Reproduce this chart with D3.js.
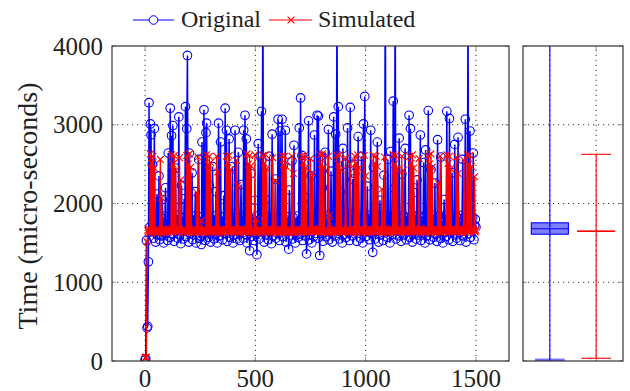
<!DOCTYPE html>
<html>
<head>
<meta charset="utf-8">
<script src="https://cdn.jsdelivr.net/npm/d3@7"></script>
<style>
body { margin: 0; background: #fff; }
text { font-family: "Liberation Serif", "Times New Roman", "DejaVu Serif", serif; fill: #222; }
</style>
</head>
<body>
<svg id="chart" width="630" height="391"></svg>
<script>
// one value every 3 runs
var sampleStep = 3;

var original = [
  20, 25, 1530, 420, 440, 1260, 3280, 1700, 3010, 2870, 1640, 2500, 1790, 1560, 2950, 1720, 1510, 1830, 2120, 1600,
  1750, 2350, 1540, 1690, 1820, 1590, 2050, 1760, 1500, 1680, 1840, 2200, 1620, 1720, 1530, 2640, 1790, 1570, 3210, 1700,
  2860, 1610, 2990, 1810, 1520, 1740, 2450, 1650, 1850, 1560, 1700, 3100, 1600, 1780, 1490, 2230, 1730, 1820, 1550, 2060,
  1690, 3230, 1580, 2950, 3880, 1760, 1510, 2640, 1810, 1620, 1700, 2390, 1540, 1840, 1660, 1750, 2150, 1500, 1790, 1630,
  1720, 2560, 1560, 1830, 1680, 1480, 2780, 1770, 1600, 3190, 1740, 1530, 2900, 3020, 1650, 1820, 1570, 2230, 1700, 1510,
  1790, 1640, 2470, 1760, 1550, 1840, 1620, 2150, 1710, 1500, 1810, 3020, 1590, 1730, 2780, 1660, 1830, 1540, 1700, 2100,
  1620, 3210, 1780, 2930, 1520, 1690, 1850, 2820, 1570, 1740, 1640, 1810, 2470, 1500, 1760, 1600, 2930, 1720, 1830, 1550,
  1680, 2650, 1790, 1530, 1700, 2240, 1620, 1840, 1560, 2930, 1740, 3120, 1610, 2820, 1500, 1770, 1650, 1820, 1400, 1720,
  2380, 1580, 1800, 1690, 1530, 1760, 2040, 1630, 1840, 1350, 1710, 2760, 1550, 1790, 2600, 1640, 3170, 1820, 4800, 1680,
  1510, 1750, 2050, 1600, 1830, 1700, 1540, 1780, 2600, 1650, 1820, 1490, 2880, 1730, 1590, 1840, 1680, 2310, 1560, 1760,
  1620, 3070, 1810, 1530, 2920, 1700, 1850, 3070, 1580, 2480, 1740, 1640, 2930, 1510, 1790, 1690, 1830, 1420, 2170, 1720,
  1600, 1780, 2540, 1550, 1820, 2740, 1680, 1500, 1760, 1640, 1840, 1570, 1720, 2960, 1610, 3340, 1800, 2610, 1530, 1700,
  1850, 2080, 1590, 1750, 1360, 1680, 1820, 3050, 1540, 1770, 1650, 2350, 1500, 1830, 1710, 1580, 2870, 1790, 1620, 1740,
  3120, 1560, 3110, 1810, 1340, 2600, 1690, 1840, 2200, 1520, 1760, 1630, 2650, 1800, 1580, 1700, 1850, 2940, 1540, 1720,
  1640, 2410, 1780, 1510, 1830, 3100, 1670, 1590, 2880, 1750, 4600, 1620, 3230, 1820, 1550, 2150, 1740, 1680, 1500, 2700,
  1790, 1610, 1840, 2500, 1570, 1730, 2960, 1660, 1810, 1530, 3220, 1700, 1850, 1590, 2310, 1760, 2500, 2380, 1640, 1820,
  1520, 1750, 2850, 1680, 1830, 1560, 1720, 2600, 1790, 1500, 3010, 1640, 3360, 1810, 1580, 1740, 2220, 1690, 1850, 1540,
  1770, 2930, 1620, 1830, 1380, 2460, 1700, 1800, 1550, 1730, 1650, 2780, 1840, 1510, 1760, 2040, 1600, 1790, 1690, 1820,
  1530, 2360, 1740, 4900, 1650, 1850, 1570, 2560, 1720, 1800, 1500, 2660, 1680, 1830, 1610, 3300, 1760, 2190, 4700, 1550,
  1710, 1840, 1590, 1750, 2830, 1660, 1800, 1520, 2370, 1730, 1850, 1600, 1690, 2700, 1780, 1540, 1820, 1640, 1740, 3120,
  1570, 2950, 1810, 1690, 1510, 1760, 2140, 1620, 1840, 1550, 1730, 2300, 1800, 1600, 1850, 1680, 2870, 1530, 1770, 1710,
  1620, 2520, 1830, 1500, 2680, 1750, 1590, 1820, 3180, 1660, 1740, 1540, 2430, 1800, 1690, 1850, 1570, 1720, 2260, 1610,
  1780, 1520, 2810, 1840, 1650, 1730, 1560, 2590, 1820, 1690, 1500, 1760, 2050, 1630, 1850, 1580, 3170, 1710, 1800, 1540,
  3080, 1750, 1640, 1830, 2390, 1520, 1700, 1790, 2750, 1600, 1840, 1560, 1730, 2840, 1680, 1810, 1530, 1770, 1650, 1850,
  2560, 1590, 1740, 1820, 3070, 1510, 1700, 1780, 4500, 1620, 1840, 2920, 1570, 1750, 1690, 1830, 2640, 1540, 1720, 1800,
  1700
];

var simulated = [
  40, 45, 50, 1515, 1660, 1640, 1670, 1630, 2630, 1660, 2510, 1640, 2600, 1650, 2450, 1635, 1660, 1650, 1680, 1630,
  1655, 1670, 1640, 2560, 1635, 2070, 1660, 1645, 1675, 1630, 1650, 1680, 1640, 1665, 1655, 1635, 1670, 1650, 1660, 1640,
  2620, 1655, 2500, 1645, 2610, 1660, 2420, 1660, 1650, 1680, 1630, 1665, 2580, 1675, 2300, 1655, 1660, 1635, 1670, 1650,
  1640, 1665, 1655, 2610, 1640, 2500, 1660, 2630, 1650, 2460, 1635, 1660, 1645, 1670, 1630, 1655, 1680, 1640, 2140, 1660,
  2590, 1635, 1670, 1645, 1660, 1780, 1640, 1675, 1655, 1630, 1665, 1650, 1640, 2620, 1655, 2490, 1665, 2600, 1640, 2520,
  1635, 1660, 1650, 1680, 1645, 1630, 1665, 1655, 2600, 1675, 2400, 1635, 1660, 1645, 1670, 1640, 1655, 1680, 1630, 1660,
  1650, 1665, 1640, 2600, 1660, 2520, 1645, 2610, 1670, 2430, 1655, 1650, 1680, 1640, 1665, 1630, 1660, 1645, 2550, 1650,
  2230, 1640, 1670, 1655, 1635, 1660, 1650, 1680, 1645, 1630, 1665, 1655, 1640, 1670, 2630, 1650, 2500, 1660, 2610, 1635,
  2480, 1645, 1655, 1630, 1665, 1640, 2620, 1650, 1800, 1635, 1660, 1645, 1670, 1655, 1640, 1665, 1630, 1650, 2610, 1660,
  2510, 1640, 2620, 1670, 2440, 1655, 1635, 1680, 1650, 1660, 1630, 1665, 1645, 2580, 1640, 1655, 1660, 2290, 1650, 1635,
  1670, 1645, 1660, 1630, 1655, 1680, 1640, 2610, 1665, 2490, 1650, 2600, 1635, 2470, 1645, 1675, 1655, 1630, 1670, 1640,
  1660, 1650, 2600, 1635, 2380, 1645, 1655, 1640, 1670, 1630, 1660, 1650, 1675, 1640, 1655, 1665, 1635, 2600, 1650, 2520,
  1660, 2610, 1645, 2450, 1635, 1655, 1680, 1650, 1640, 1665, 2570, 1660, 1645, 2380, 1675, 1655, 1640, 1670, 1650, 1635,
  1665, 1645, 1660, 1680, 2620, 1650, 2500, 1640, 2630, 1655, 2460, 1635, 1660, 1645, 1675, 1650, 1630, 2600, 1640, 1850,
  1655, 1660, 1635, 1670, 1650, 1645, 1680, 1640, 1665, 1630, 2610, 1655, 2500, 1660, 2620, 1645, 2430, 1635, 1650, 1675,
  1640, 1660, 1655, 2580, 1665, 1650, 1680, 1645, 1635, 1670, 2500, 1660, 1640, 1655, 1675, 1650, 1630, 2600, 1665, 2510,
  1645, 2620, 1660, 2450, 1670, 1655, 1635, 1680, 1650, 1665, 1630, 2610, 1645, 2350, 1640, 1655, 1670, 1650, 1635, 1660,
  1680, 1645, 1665, 1630, 1655, 2610, 1640, 2510, 1670, 2600, 1650, 2470, 1635, 1675, 1645, 1655, 1665, 1640, 2180, 1650,
  1670, 1635, 2590, 1645, 1680, 1655, 1630, 1665, 1650, 1640, 1675, 1660, 1645, 1655, 1635, 2620, 1670, 2500, 1650, 2610,
  1660, 2440, 1665, 1630, 1655, 1680, 1645, 1670, 2600, 1635, 2420, 1655, 1640, 1675, 1665, 1630, 1650, 1645, 1680, 1660,
  2600, 1640, 2510, 1670, 2620, 1655, 2450, 1660, 1645, 1675, 1650, 1630, 1665, 1640, 2570, 1680, 1660, 1645, 1670, 1635,
  1650, 1665, 1640, 1655, 1630, 1675, 1660, 1645, 2610, 1650, 2500, 1670, 2630, 1635, 2460, 1655, 1640, 1680, 1645, 1665,
  1630, 1655, 1670, 2260, 1650, 1640, 2600, 1675, 1635, 1665, 1645, 1655, 1680, 1640, 1660, 1650, 2620, 1670, 2510, 1635,
  2600, 1655, 2440, 1665, 1630, 1660, 1650, 1675, 1640, 1670, 1655, 2590, 1660, 2380, 1680, 1650, 1665, 1640, 1655, 1630,
  1670, 1650, 2550, 1660, 1635, 1675, 1655, 2620, 1640, 2500, 1665, 2610, 1650, 2470, 1660, 1645, 1670, 1655, 2340, 1640,
  1660
];

var xTicks = [0, 500, 1000, 1500];
var yTicks = [0, 1000, 2000, 3000, 4000];

// box plot summary for the side panel
var boxNames = ["Original", "Simulated"];
var boxLow = [15, 35];
var boxQ1 = [1610, 1645];
var boxMedian = [1680, 1647];
var boxQ3 = [1755, 1650];
var boxHigh = [4600, 2625];
var boxColors = ["#0000ff", "#ff0000"];

var svg = d3.select("#chart");
var frame = {left: 112, right: 509, top: 46, bottom: 361};
var side = {left: 523, right: 623};
var serif = '"Liberation Serif", "Times New Roman", "DejaVu Serif", serif';

var x = d3.scaleLinear().domain([-150, 1650]).range([frame.left, frame.right]);
var y = d3.scaleLinear().domain([0, 4000]).range([frame.bottom, frame.top]);
var xb = d3.scaleLinear().domain([0.42, 2.58]).range([side.left, side.right]);

svg.append("clipPath").attr("id", "clipMain")
  .append("rect")
  .attr("x", frame.left).attr("y", frame.top)
  .attr("width", frame.right - frame.left).attr("height", frame.bottom - frame.top);

svg.append("clipPath").attr("id", "clipSide")
  .append("rect")
  .attr("x", side.left).attr("y", frame.top)
  .attr("width", side.right - side.left).attr("height", frame.bottom - frame.top);

// dotted grid, main panel
var grid = svg.append("g").attr("stroke", "#333").attr("stroke-width", 1).attr("stroke-dasharray", "1.2,3.8");
grid.selectAll("line.gx").data(xTicks).enter().append("line")
  .attr("x1", function (d) { return x(d); }).attr("x2", function (d) { return x(d); })
  .attr("y1", frame.bottom).attr("y2", frame.top);
grid.selectAll("line.gy").data(yTicks.slice(1, -1)).enter().append("line")
  .attr("x1", frame.left).attr("x2", frame.right)
  .attr("y1", function (d) { return y(d); }).attr("y2", function (d) { return y(d); });

// dotted grid, side panel
var gridB = svg.append("g").attr("stroke", "#333").attr("stroke-width", 1).attr("stroke-dasharray", "1.2,3.8");
gridB.selectAll("line").data([1, 2]).enter().append("line")
  .attr("x1", function (d) { return xb(d); }).attr("x2", function (d) { return xb(d); })
  .attr("y1", frame.bottom).attr("y2", frame.top);
gridB.selectAll("line.h").data(yTicks.slice(1, -1)).enter().append("line")
  .attr("x1", side.left).attr("x2", side.right)
  .attr("y1", function (d) { return y(d); }).attr("y2", function (d) { return y(d); });

// tick marks (gray, inside)
var ticks = svg.append("g").attr("stroke", "#999").attr("stroke-width", 1);
xTicks.forEach(function (d) {
  ticks.append("line").attr("x1", x(d)).attr("x2", x(d)).attr("y1", frame.bottom).attr("y2", frame.bottom - 4);
  ticks.append("line").attr("x1", x(d)).attr("x2", x(d)).attr("y1", frame.top).attr("y2", frame.top + 4);
});
yTicks.forEach(function (d) {
  ticks.append("line").attr("x1", frame.left).attr("x2", frame.left + 4).attr("y1", y(d)).attr("y2", y(d));
  ticks.append("line").attr("x1", frame.right).attr("x2", frame.right - 4).attr("y1", y(d)).attr("y2", y(d));
  ticks.append("line").attr("x1", side.left).attr("x2", side.left + 4).attr("y1", y(d)).attr("y2", y(d));
  ticks.append("line").attr("x1", side.right).attr("x2", side.right - 4).attr("y1", y(d)).attr("y2", y(d));
});
[1, 2].forEach(function (d) {
  ticks.append("line").attr("x1", xb(d)).attr("x2", xb(d)).attr("y1", frame.top).attr("y2", frame.top + 4);
  ticks.append("line").attr("x1", xb(d)).attr("x2", xb(d)).attr("y1", frame.bottom).attr("y2", frame.bottom - 4);
});

// series
var plot = svg.append("g").attr("clip-path", "url(#clipMain)");
var line = d3.line()
  .x(function (d, i) { return x(i * sampleStep); })
  .y(function (d) { return y(d); });

plot.append("path").datum(original)
  .attr("d", line).attr("fill", "none").attr("stroke", "#0000ff").attr("stroke-width", 1.5);
plot.append("g").selectAll("circle").data(original).enter().append("circle")
  .attr("cx", function (d, i) { return x(i * sampleStep); })
  .attr("cy", function (d) { return y(d); })
  .attr("r", 4.3).attr("fill", "none").attr("stroke", "#0000ff").attr("stroke-width", 1.1);

plot.append("path").datum(simulated)
  .attr("d", line).attr("fill", "none").attr("stroke", "#ff0000").attr("stroke-width", 1.3);
var cross = "M-3.4,-3.4L3.4,3.4M-3.4,3.4L3.4,-3.4";
plot.append("g").selectAll("path").data(simulated).enter().append("path")
  .attr("transform", function (d, i) { return "translate(" + x(i * sampleStep) + "," + y(d) + ")"; })
  .attr("d", cross).attr("fill", "none").attr("stroke", "#ff0000").attr("stroke-width", 1.1);

// side panel box plots
var boxes = svg.append("g").attr("clip-path", "url(#clipSide)");
boxNames.forEach(function (name, k) {
  var c = k + 1;
  var col = boxColors[k];
  var half = 0.4, cap = 0.32;
  var g = boxes.append("g");
  g.append("line")
    .attr("x1", xb(c)).attr("x2", xb(c))
    .attr("y1", y(boxLow[k])).attr("y2", y(boxHigh[k]))
    .attr("stroke", col).attr("stroke-width", 1.1);
  g.append("rect")
    .attr("x", xb(c - half)).attr("width", xb(c + half) - xb(c - half))
    .attr("y", y(boxQ3[k])).attr("height", Math.max(0, y(boxQ1[k]) - y(boxQ3[k])))
    .attr("fill", k === 0 ? col : "none").attr("fill-opacity", 0.5)
    .attr("stroke", col).attr("stroke-width", 1.1);
  g.append("line")
    .attr("x1", xb(c - half)).attr("x2", xb(c + half))
    .attr("y1", y(boxMedian[k])).attr("y2", y(boxMedian[k]))
    .attr("stroke", col).attr("stroke-width", 1.1);
  [boxLow[k], boxHigh[k]].forEach(function (v) {
    g.append("line")
      .attr("x1", xb(c - cap)).attr("x2", xb(c + cap))
      .attr("y1", y(v)).attr("y2", y(v))
      .attr("stroke", col).attr("stroke-width", k === 0 ? 2.5 : 1.1)
      .attr("stroke-opacity", k === 0 ? 0.55 : 1);
  });
});

// frames
svg.append("rect").attr("x", frame.left).attr("y", frame.top)
  .attr("width", frame.right - frame.left).attr("height", frame.bottom - frame.top)
  .attr("fill", "none").attr("stroke", "#222").attr("stroke-width", 1.1);
svg.append("rect").attr("x", side.left).attr("y", frame.top)
  .attr("width", side.right - side.left).attr("height", frame.bottom - frame.top)
  .attr("fill", "none").attr("stroke", "#222").attr("stroke-width", 1.1);

// tick labels
svg.append("g").selectAll("text").data(xTicks).enter().append("text")
  .attr("x", function (d) { return x(d); }).attr("y", 387)
  .attr("text-anchor", "middle").attr("font-size", 25).attr("font-family", serif)
  .text(function (d) { return d; });
svg.append("g").selectAll("text").data(yTicks).enter().append("text")
  .attr("x", 103).attr("y", function (d) { return y(d); }).attr("dy", "0.34em")
  .attr("text-anchor", "end").attr("font-size", 25).attr("font-family", serif)
  .text(function (d) { return d; });

svg.append("text")
  .attr("transform", "translate(37,206) rotate(-90)")
  .attr("text-anchor", "middle").attr("font-size", 28).attr("font-family", serif)
  .text("Time (micro-seconds)");

// legend
var leg = svg.append("g");
leg.append("line").attr("x1", 133).attr("x2", 174).attr("y1", 20).attr("y2", 20)
  .attr("stroke", "#0000ff").attr("stroke-width", 1.1);
leg.append("circle").attr("cx", 153.5).attr("cy", 20).attr("r", 4.3)
  .attr("fill", "#fff").attr("stroke", "#0000ff").attr("stroke-width", 1);
leg.append("text").attr("x", 181).attr("y", 27).attr("font-size", 24).attr("font-family", serif).text("Original");
leg.append("line").attr("x1", 269).attr("x2", 312).attr("y1", 20).attr("y2", 20)
  .attr("stroke", "#ff0000").attr("stroke-width", 1.1);
leg.append("path").attr("transform", "translate(291,20)").attr("d", cross)
  .attr("fill", "none").attr("stroke", "#ff0000").attr("stroke-width", 1.1);
leg.append("text").attr("x", 318).attr("y", 27).attr("font-size", 24).attr("font-family", serif).text("Simulated");
</script>
</body>
</html>
